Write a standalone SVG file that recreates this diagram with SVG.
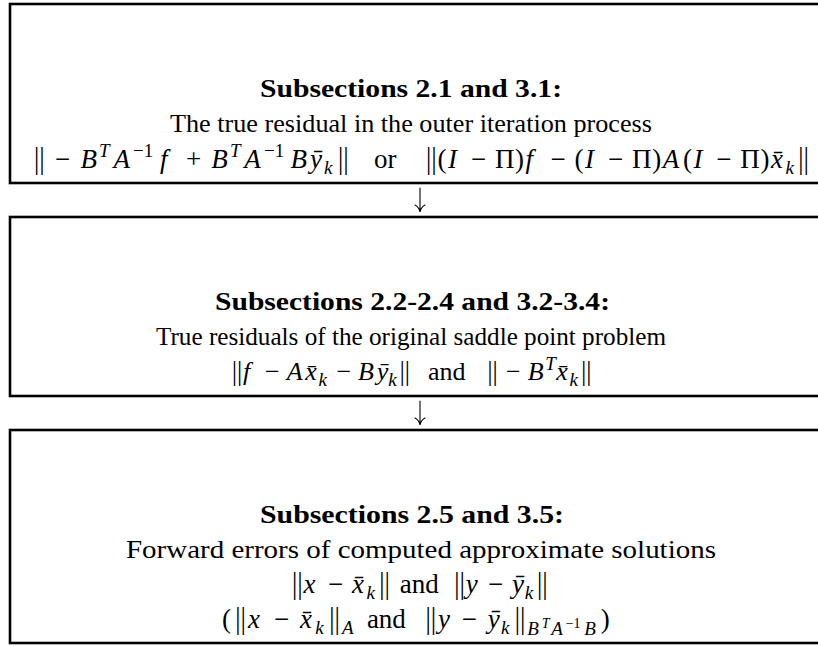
<svg xmlns="http://www.w3.org/2000/svg" width="818" height="646" viewBox="0 0 818 646">
<style>
.box{fill:none;stroke:#000;stroke-width:2.6}
.t{font-family:"Liberation Serif","DejaVu Serif",serif;font-size:25px;fill:#000}
.b{font-weight:bold}
.m{font-family:"Liberation Serif","DejaVu Serif",serif;font-size:27px;fill:#000}
.m2{font-family:"Liberation Serif","DejaVu Serif",serif;font-size:26px;fill:#000}
.i{font-style:italic}
.nm{font-family:"Noto Sans","DejaVu Sans",sans-serif;font-style:normal;font-weight:300}
.sb{font-size:19px}
.ss{font-size:14px}
.arr{fill:none;stroke:#000;stroke-width:1.1;stroke-linecap:round}
</style>
<rect width="818" height="646" fill="#fff"/>
<g id="connectors">
<path class="arr" d="M420,188 V211 M415,205 Q419,207 420,212 Q421,207 425,205"/>
<path class="arr" d="M420,401 V424 M415,418 Q419,420 420,425 Q421,420 425,418"/>
</g>
<g id="node1">
<rect class="box" x="10" y="4" width="830" height="179"/>
<text class="t b" x="260" y="97" textLength="302" lengthAdjust="spacingAndGlyphs">Subsections 2.1 and 3.1:</text>
<text class="t" x="170" y="132" textLength="482" lengthAdjust="spacingAndGlyphs">The true residual in the outer iteration process</text>
<text class="m" y="168"><tspan class="nm" x="32">‖</tspan><tspan x="55">−</tspan><tspan class="i" x="80.6">B</tspan><tspan class="i sb" x="99" y="157">T</tspan><tspan class="i" x="113.5" y="168">A</tspan><tspan class="sb" x="133" y="157">−1</tspan><tspan class="i" x="159.9" y="168">f</tspan><tspan x="186">+</tspan><tspan class="i" x="211.2">B</tspan><tspan class="i sb" x="230" y="157">T</tspan><tspan class="i" x="244.2" y="168">A</tspan><tspan class="sb" x="264" y="157">−1</tspan><tspan class="i" x="290.5" y="168">B</tspan><tspan class="i" x="310">ȳ</tspan><tspan class="i sb" x="324" y="174">k</tspan><tspan class="nm" x="336" y="168">‖</tspan></text>
<text class="m" x="374" y="168">or</text>
<text class="m" y="168"><tspan class="nm" x="424">‖</tspan><tspan x="437.5">(</tspan><tspan class="i" x="448">I</tspan><tspan x="471">−</tspan><tspan x="494.9">Π</tspan><tspan x="515.1">)</tspan><tspan class="i" x="525.5">f</tspan><tspan x="550.6">−</tspan><tspan x="574.6">(</tspan><tspan class="i" x="585.1">I</tspan><tspan x="608">−</tspan><tspan x="632">Π</tspan><tspan x="652.2">)</tspan><tspan class="i" x="662.7">A</tspan><tspan x="682.9">(</tspan><tspan class="i" x="693.4">I</tspan><tspan x="716.3">−</tspan><tspan x="740.3">Π</tspan><tspan x="760.5">)</tspan><tspan class="i" x="771">x̄</tspan><tspan class="i sb" x="785.4" y="174">k</tspan><tspan class="nm" x="796.2" y="168">‖</tspan></text>
</g>
<g id="node2">
<rect class="box" x="10" y="217" width="830" height="179"/>
<text class="t b" x="215" y="310" textLength="395" lengthAdjust="spacingAndGlyphs">Subsections 2.2-2.4 and 3.2-3.4:</text>
<text class="t" x="156" y="345" textLength="510" lengthAdjust="spacingAndGlyphs">True residuals of the original saddle point problem</text>
<text class="m2" y="380"><tspan class="nm" x="230">‖</tspan><tspan class="i" x="243">f</tspan><tspan x="265">−</tspan><tspan class="i" x="286.8">A</tspan><tspan class="i" x="305.2">x̄</tspan><tspan class="i sb" x="318.5" y="386">k</tspan><tspan x="336.6" y="380">−</tspan><tspan class="i" x="358.1">B</tspan><tspan class="i" x="376.7">ȳ</tspan><tspan class="i sb" x="388.2" y="386">k</tspan><tspan class="nm" x="397.7" y="380">‖</tspan></text>
<text class="m2" x="428" y="380">and</text>
<text class="m2" y="380"><tspan class="nm" x="485.5">‖</tspan><tspan x="506">−</tspan><tspan class="i" x="527.7">B</tspan><tspan class="i sb" x="545.3" y="370">T</tspan><tspan class="i" x="556.3" y="380">x̄</tspan><tspan class="i sb" x="569.5" y="386">k</tspan><tspan class="nm" x="579.3" y="380">‖</tspan></text>
</g>
<g id="node3">
<rect class="box" x="10" y="430" width="830" height="213"/>
<text class="t b" x="260" y="523" textLength="304" lengthAdjust="spacingAndGlyphs">Subsections 2.5 and 3.5:</text>
<text class="t" x="126" y="558" textLength="590" lengthAdjust="spacingAndGlyphs">Forward errors of computed approximate solutions</text>
<text class="m" y="593"><tspan class="nm" x="290">‖</tspan><tspan class="i" x="303.5">x</tspan><tspan x="328">−</tspan><tspan class="i" x="351.9">x̄</tspan><tspan class="i sb" x="366.4" y="599">k</tspan><tspan class="nm" x="377.2" y="593">‖</tspan><tspan x="399.7">and</tspan><tspan class="nm" x="452.2">‖</tspan><tspan class="i" x="465.7">y</tspan><tspan x="488">−</tspan><tspan class="i" x="511.9">ȳ</tspan><tspan class="i sb" x="524.7" y="599">k</tspan><tspan class="nm" x="535" y="593">‖</tspan></text>
<text class="m" y="628"><tspan x="222">(</tspan><tspan class="nm" x="233.3">‖</tspan><tspan class="i" x="247.9">x</tspan><tspan x="274">−</tspan><tspan class="i" x="300.1">x̄</tspan><tspan class="i sb" x="315.2" y="634">k</tspan><tspan class="nm" x="327.3" y="628">‖</tspan><tspan class="i sb" x="341.9" y="634">A</tspan><tspan x="366.9" y="628">and</tspan><tspan class="nm" x="423.5">‖</tspan><tspan class="i" x="438">y</tspan><tspan x="461.7">−</tspan><tspan class="i" x="487.8">ȳ</tspan><tspan class="i sb" x="501.1" y="634">k</tspan><tspan class="nm" x="512.7" y="628">‖</tspan><tspan class="i sb" x="527.3" y="635">B</tspan><tspan class="i ss" x="541.7" y="628">T</tspan><tspan class="i sb" x="551.2" y="635">A</tspan><tspan class="ss" x="565.7" y="628">−1</tspan><tspan class="i sb" x="584.3" y="635">B</tspan><tspan x="600.7" y="628">)</tspan></text>
</g>
</svg>
